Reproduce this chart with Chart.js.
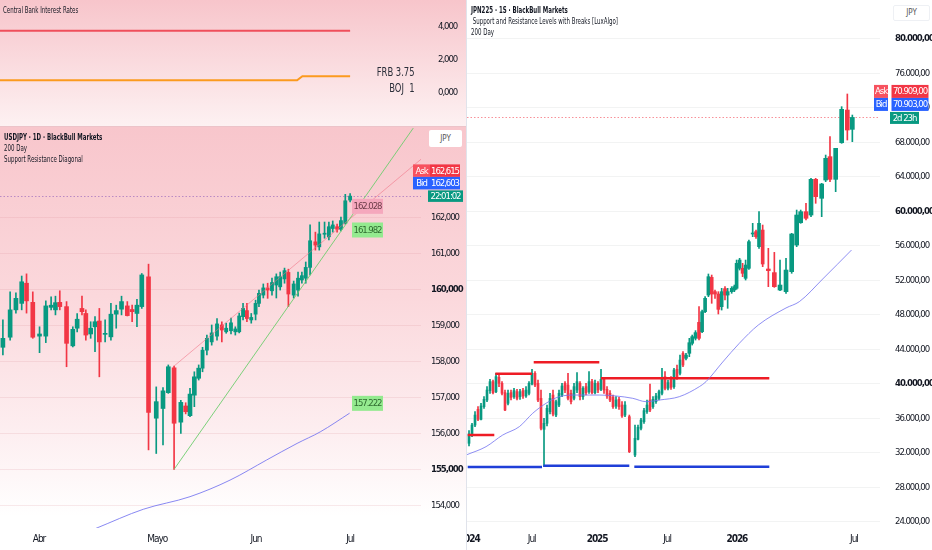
<!DOCTYPE html>
<html>
<head>
<meta charset="utf-8">
<script src="https://cdn.jsdelivr.net/npm/chart.js@4.4.1/dist/chart.umd.min.js"></script>
<style>
    body { margin: 0; width: 932px; height: 550px; position: relative; overflow: hidden; background: #fff;
           font-family: 'Liberation Sans Narrow', 'DejaVu Sans Condensed', Roboto, sans-serif; color: #131722; }
    .pane { position: absolute; overflow: hidden; }
    .pane canvas { position: absolute; left: 0; top: 0; }
    .legend { position: absolute; font-size: 8px; line-height: 11px; white-space: nowrap;
              transform: scaleX(0.76); transform-origin: left top; }
    .cur { position: absolute; background: #fff; border-radius: 2px; font-size: 8px; color: #555; text-align: center; }
    .rate { position: absolute; font-size: 12px; line-height: 16px; color: #2a2e39; text-align: right; white-space: pre;
            transform: scaleX(0.78); transform-origin: right top; }
</style>
</head>
<body>
<div class="pane" style="left:0;top:0;width:466px;height:126px;background:linear-gradient(#f7c5cb,#fdf1f2)">
    <canvas id="ratesChart" width="466" height="126"></canvas>
    <div class="legend" style="left:3px;top:5px">Central Bank Interest Rates</div>
    <div class="rate" id="rateLabels" style="right:51px;top:64px"></div>
</div>
<div style="position:absolute;left:0;top:126px;width:466px;height:1px;background:#ecc3c9"></div>
<div class="pane" style="left:0;top:127px;width:466px;height:423px;background:linear-gradient(#f8c6cc 0%,#fbd8dc 40%,#fdeef0 72%,#fff 92%)">
    <canvas id="usdChart" width="466" height="423"></canvas>
    <div class="legend" style="left:4px;top:5px"><b>USDJPY · 1D · BlackBull Markets</b><br>200 Day<br>Support Resistance Diagonal</div>
    <div class="cur" style="left:429px;top:3px;width:33px;height:17px;line-height:17px">JPY</div>
</div>
<div style="position:absolute;left:466px;top:0;width:1px;height:550px;background:#e0e3eb"></div>
<div class="pane" style="left:467px;top:0;width:465px;height:550px;background:#fff">
    <canvas id="jpChart" width="465" height="550"></canvas>
    <div class="legend" style="left:4px;top:5px"><b>JPN225 · 1S · BlackBull Markets</b><br>&nbsp;Support and Resistance Levels with Breaks [LuxAlgo]<br>200 Day</div>
    <div class="cur" style="left:426px;top:5px;width:35px;height:14px;line-height:14px;border:1px solid #eef0f4">JPY</div>
</div>

<script>
const FONT = "'Liberation Sans Narrow', 'DejaVu Sans Condensed', Roboto, sans-serif";
const GREEN = '#089981';
const RED = '#f23645';

// Central bank rates (top pane, same time axis as USDJPY)
const rateT = [0, 61.6, 62.7, 72.6];
const frbRate = [3.75, 3.75, 3.75, 3.75];
const bojRate = [0.75, 0.75, 1, 1];
const rateTicks = [0, 2, 4];

// USDJPY daily candles
const usdT = [0.6, 2.1, 3.3, 4.5, 5.5, 6.8, 8.2, 9.5, 10.6, 11.5, 12.4, 13.8, 15.1, 16.0, 17.0, 17.8, 18.8, 19.7,
    20.6, 21.8, 23.0, 24.1, 25.2, 26.4, 27.4, 28.4, 29.4, 30.8, 32.4, 33.8, 34.9, 36.1, 37.5, 38.5, 39.4, 40.3,
    41.2, 42.0, 42.9, 43.9, 45.0, 46.0, 46.9, 47.9, 48.8, 49.6, 50.4, 51.2, 52.1, 53.0, 53.7, 54.6, 55.5, 56.4,
    57.3, 58.1, 59.0, 59.8, 60.9, 61.8, 62.6, 63.4, 64.3, 65.4, 66.2, 67.3, 68.2, 69.0, 69.9, 70.7, 71.6, 72.6];
const usdO = [158.39, 158.67, 159.43, 159.61, 160.17, 159.64, 158.70, 158.70, 159.50, 159.43, 159.64, 159.52,
    158.43, 158.92, 159.47, 159.33, 158.76, 158.96, 159.12, 158.75, 158.68, 159.31, 159.45, 159.54, 159.44, 159.33,
    159.52, 160.35, 156.42, 156.69, 157.13, 157.82, 156.31, 156.76, 156.49, 157.06, 157.53, 157.81, 158.31, 158.54,
    158.70, 159.01, 158.82, 158.85, 158.82, 158.82, 159.24, 159.41, 159.15, 159.31, 159.61, 159.84, 160.04, 159.96,
    160.12, 160.07, 160.29, 160.47, 159.84, 159.98, 160.26, 160.31, 160.61, 161.32, 161.18, 161.53, 161.46, 161.69,
    161.74, 161.67, 161.83, 162.48];
const usdH = [159.15, 159.93, 159.90, 160.37, 160.43, 159.93, 158.96, 159.68, 159.79, 159.81, 159.96, 159.66,
    158.96, 159.33, 159.81, 159.43, 159.10, 159.24, 159.47, 159.15, 159.61, 159.56, 159.81, 159.66, 159.56, 159.72,
    160.44, 160.70, 157.29, 157.27, 157.90, 157.87, 156.92, 156.85, 157.25, 157.71, 157.90, 158.39, 158.73, 159.01,
    159.19, 159.10, 159.06, 159.20, 158.96, 159.34, 159.61, 159.61, 159.33, 159.70, 159.98, 160.15, 160.17, 160.31,
    160.43, 160.48, 160.59, 160.56, 160.23, 160.48, 160.48, 160.76, 161.79, 161.59, 161.87, 161.87, 161.87, 161.90,
    161.81, 162.01, 162.64, 162.66];
const usdL = [158.18, 158.59, 159.34, 159.43, 159.34, 158.64, 158.24, 158.52, 159.43, 159.29, 159.43, 157.85,
    158.40, 158.82, 159.29, 158.59, 158.64, 158.27, 157.57, 158.54, 158.59, 158.92, 159.29, 159.26, 159.10, 158.96,
    159.47, 155.54, 155.44, 155.68, 157.11, 155.00, 156.00, 156.54, 156.46, 156.74, 157.48, 157.71, 158.18, 158.45,
    158.59, 158.54, 158.78, 158.76, 158.73, 158.79, 159.15, 159.10, 159.06, 159.15, 159.52, 159.76, 159.75, 159.84,
    159.76, 159.98, 160.17, 159.52, 159.76, 159.81, 160.17, 160.17, 160.40, 161.09, 161.09, 161.42, 161.37, 161.59,
    161.59, 161.62, 161.81, 162.43];
const usdC = [158.64, 159.43, 159.75, 160.21, 159.68, 158.67, 158.76, 159.54, 159.56, 159.63, 159.52, 158.50,
    158.89, 159.17, 159.38, 158.73, 158.92, 159.10, 158.54, 158.77, 159.31, 159.41, 159.66, 159.27, 159.38, 159.56,
    160.40, 156.58, 156.88, 157.18, 157.85, 156.28, 156.86, 156.60, 157.09, 157.57, 157.81, 158.31, 158.64, 158.79,
    159.04, 158.87, 158.92, 159.07, 158.90, 159.26, 159.47, 159.19, 159.22, 159.61, 159.89, 160.04, 159.98, 160.19,
    160.35, 160.35, 160.52, 159.87, 160.15, 160.31, 160.38, 160.61, 161.35, 161.23, 161.54, 161.56, 161.74, 161.79,
    161.67, 161.91, 162.46, 162.59];
const usdMaT = [19.9, 29.7, 39.4, 47.7, 55.3, 61.6, 66.4, 72.5];
const usdMaV = [153.36, 153.89, 154.24, 154.70, 155.26, 155.72, 156.04, 156.56];
const usdSupT = [36.1, 85.7];
const usdSupV = [155.00, 164.48];
const usdResT = [36.1, 87.8];
const usdResV = [157.87, 163.67];
const usdLevels = [162.028, 161.982, 157.222];
const usdTicks = [154, 155, 156, 157, 158, 159, 160, 161, 162];
const usdMonthT = [8.1, 32.6, 53.1, 72.6];
const usdMonths = ['Abr', 'Mayo', 'Jun', 'Jul'];
const usdAsk = 162.615;
const usdBid = 162.603;
const usdTimer = '22:01:02';

// JPN225 weekly candles
const jpT = [1, 2, 3, 4, 5, 6, 7, 8, 9, 10, 11, 12, 13, 14, 15, 16, 17, 18, 19, 20, 21, 22, 23, 24, 25, 26, 27,
    28, 29, 30, 31, 32, 33, 34, 35, 36, 37, 38, 39, 40, 41, 42, 43, 44, 45, 46, 47, 48, 49, 50, 51, 52, 53,
    54.44, 56.33, 57.33, 58.33, 59.33, 60.33, 61.33, 62.33, 63.33, 64.33, 65.33, 66.33, 67.33, 68.33, 69.33, 70.33,
    71.33, 72.33, 73.33, 74.44, 75.4, 76.5, 77.67, 78.7, 79.7, 80.8, 81.9, 83.0, 84.11, 85.22, 86.33, 87.22, 88.56,
    89.44, 90.2, 91.2, 92.2, 93.2, 94.3, 95.56, 96.67, 97.67, 98.89, 100.78, 102.78, 104.67, 106.67, 108.56, 110.22,
    111.56, 113.33, 115, 116.56, 118.56, 119.89, 121.33, 123.22, 125.22, 127.11, 128.78];
const jpO = [33100, 34060, 35220, 37040, 35880, 37350, 38120, 39210, 40250, 39090, 40750, 40060, 38980, 37740,
    38980, 38510, 39090, 38510, 39210, 38590, 38900, 39980, 41220, 40060, 38320, 34720, 35420, 36770, 38700, 36380,
    37540, 38700, 40060, 39860, 38900, 38320, 39280, 40060, 38510, 39670, 39090, 40250, 38980, 40060, 39360, 40520,
    39360, 38900, 38430, 37430, 38200, 37540, 36380, 36190, 31740, 33560, 34840, 35610, 36770, 38120, 37350, 37930,
    38320, 38900, 40830, 39480, 40520, 39670, 41680, 41220, 43540, 42960, 43540, 44700, 45280, 47130, 46050, 48370,
    50300, 52350, 50690, 50420, 48950, 51040, 50300, 50690, 50880, 51080, 53400, 53400, 52240, 53400, 57380, 57650,
    55910, 57840, 53320, 52900, 50880, 50690, 53010, 56100, 58690, 59970, 59580, 63720, 61520, 63640, 66350, 63720,
    67970, 71760, 69520];
const jpH = [34570, 35420, 36770, 37350, 37740, 38510, 39670, 40520, 40440, 41220, 41020, 40250, 39280, 39280,
    39280, 39480, 39360, 39360, 39480, 39670, 40250, 41680, 41410, 40440, 39280, 36000, 37540, 38900, 39280, 38120,
    39280, 40060, 40250, 41220, 39280, 40060, 41300, 40250, 39670, 40060, 41410, 40520, 40440, 40250, 41680, 40750,
    39670, 39210, 38700, 38510, 38430, 37930, 37930, 36380, 35220, 35220, 36000, 37160, 38120, 39980, 38510, 38900,
    39280, 41800, 41410, 40440, 40830, 41800, 42180, 43340, 43730, 43540, 45280, 45660, 46170, 48950, 48560, 50110,
    52740, 52620, 50880, 50690, 51080, 51270, 51080, 51270, 51460, 54360, 54560, 53980, 54360, 56680, 58620, 57840,
    59970, 58420, 55720, 55250, 54360, 54560, 57460, 60160, 60160, 60940, 63840, 63840, 63260, 66540, 68670, 67320,
    72150, 73620, 71180];
const jpL = [32790, 33870, 35030, 35730, 35800, 37160, 37930, 38900, 38820, 38980, 39670, 38700, 36890, 37540,
    38120, 38320, 38120, 38200, 38320, 38430, 38700, 39860, 39670, 37930, 34640, 30390, 35110, 36500, 36270, 36190,
    37350, 38510, 38980, 38120, 37660, 38120, 38980, 38120, 38200, 38700, 38900, 38820, 38820, 38980, 39210, 38900,
    38320, 37930, 37160, 37160, 37040, 36110, 36190, 32020, 31550, 33480, 34640, 35420, 36580, 36770, 37160, 37740,
    38120, 38700, 39280, 39280, 39360, 39480, 40520, 41020, 41990, 42760, 43150, 44500, 45080, 45080, 45940, 48250,
    50110, 49340, 49920, 48100, 48560, 49720, 48760, 50500, 50690, 50960, 53200, 52430, 52040, 53280, 57070, 56880,
    55720, 53590, 51270, 51190, 50810, 50500, 52820, 55910, 58620, 59000, 59390, 60940, 59390, 63450, 63450, 62290,
    67900, 68280, 68090];
const jpC = [34180, 35220, 36380, 35880, 37430, 38200, 39280, 40250, 38980, 40830, 40060, 38900, 36960, 38900,
    38430, 39210, 38320, 39090, 38590, 39280, 40060, 41220, 39860, 38120, 34840, 35420, 37160, 38320, 36500, 37930,
    38900, 39750, 39280, 38320, 37930, 39670, 40250, 38510, 39480, 38980, 40250, 38980, 40060, 39280, 40520, 39280,
    38590, 38120, 37350, 38120, 37350, 36270, 37540, 32130, 33680, 34950, 35800, 36890, 37540, 36960, 38200, 38590,
    39090, 40750, 39480, 40140, 39590, 41600, 40750, 42760, 42180, 43340, 44770, 45470, 45940, 45280, 48370, 49920,
    52430, 50420, 50420, 48640, 50690, 50300, 50690, 51080, 51270, 53980, 54360, 52820, 53780, 56490, 57460, 57070,
    58620, 53900, 53130, 51270, 51460, 53200, 57380, 59580, 59970, 59200, 63720, 61710, 63180, 66160, 63720, 67320,
    71840, 69440, 70903];
const jpMaT = [0, 6.67, 12.23, 17.77, 22.23, 26.67, 31.1, 36.67, 44.43, 50, 55.57, 60, 64.43, 71.1, 77.77, 80,
    85.57, 91.1, 97.43, 106.67, 111.1, 118.9, 128.5];
const jpMaV = [31740, 32710, 34060, 35030, 36580, 37740, 38510, 38700, 38700, 38590, 38320, 37930, 38120, 38510,
    39670, 40250, 42530, 44700, 46820, 48800, 49530, 52160, 55520];
const jpResV = [34064, 41175, 42497, 40641];
const jpResFrom = [0.57, 9.77, 22.57, 45];
const jpResTo = [9.43, 22, 44.43, 101.1];
const jpSupV = [30352, 30500, 30388];
const jpSupFrom = [0.57, 25.77, 56.1];
const jpSupTo = [25.33, 54.43, 101.1];
const jpTicks = [24000, 28000, 32000, 36000, 40000, 44000, 48000, 52000, 56000, 60000, 64000, 68000, 72000, 76000, 80000];
const jpTimeT = [1.1, 21.9, 43.7, 67, 90.3, 129.3];
const jpTimes = ['2024', 'Jul', '2025', 'Jul', '2026', 'Jul'];
const jpAsk = 70909;
const jpBid = 70903;
const jpTimer = '2d 23h';

Chart.defaults.font.family = FONT;
Chart.defaults.color = '#131722';
Chart.defaults.animation = false;
Chart.defaults.events = [];
Chart.defaults.responsive = false;
Chart.defaults.plugins.legend.display = false;
Chart.defaults.plugins.tooltip.enabled = false;

// the reference uses a squeezed face, so tighten the canvas text to the same width
const measure = document.createElement('canvas').getContext('2d');
measure.font = '9.5px ' + FONT;
const LETTER = Math.min(0, (28 - measure.measureText('162,000').width) / 7).toFixed(2) + 'px';

const tightText = {
    id: 'tightText',
    beforeDraw(chart) {
        chart.ctx.letterSpacing = LETTER;
    }
};

function fmtUsd(v) {
    return v.toFixed(3).replace('.', ',');
}

function fmtJp(v) {
    return Math.round(v).toString().replace(/\B(?=(\d{3})+(?!\d))/g, '.') + ',00';
}

function points(t, v) {
    return t.map((x, i) => ({x: x, y: v[i]}));
}

function lineSet(data, color, width, extra) {
    return Object.assign({
        type: 'line', data: data, borderColor: color, borderWidth: width,
        pointRadius: 0, order: 0
    }, extra || {});
}

function candleSets(t, o, h, l, c, groups) {
    const color = i => c[i] >= o[i] ? GREEN : RED;
    const sets = [{
        data: t.map((x, i) => ({x: x, y: [l[i], h[i]]})),
        backgroundColor: t.map((x, i) => color(i)),
        barThickness: 1,
        order: 2
    }];
    groups.forEach(g => {
        const idx = t.map((x, i) => i).filter(i => i >= g.from && i < g.to);
        sets.push({
            data: idx.map(i => ({x: t[i], y: [o[i], c[i]]})),
            backgroundColor: idx.map(color),
            barThickness: g.width,
            minBarLength: 1,
            order: 1
        });
    });
    return sets;
}

function fixTicks(values) {
    return scale => { scale.ticks = values.map(v => ({value: v})); };
}

function fitAxis(prop, size) {
    return scale => {
        scale[prop] = size;
        scale.paddingLeft = 0;
        scale.paddingRight = 0;
        scale.paddingTop = 0;
        scale.paddingBottom = 0;
    };
}

function tag(ctx, x, yc, w, h, fill, text, color) {
    ctx.fillStyle = fill;
    ctx.fillRect(x, yc - h / 2, w, h);
    ctx.fillStyle = color || '#fff';
    ctx.font = '9.5px ' + FONT;
    ctx.textAlign = 'center';
    ctx.textBaseline = 'middle';
    ctx.fillText(text, x + w / 2, yc + 0.5);
}

function priceTags(opt) {
    return {
        id: 'priceTags',
        beforeDatasetsDraw(chart) {
            const {ctx, chartArea} = chart;
            const y = Math.round(chart.scales.y.getPixelForValue(opt.bid)) + 0.5;
            ctx.save();
            ctx.strokeStyle = opt.lineColor;
            ctx.lineWidth = 1;
            ctx.setLineDash([1.5, 2]);
            ctx.beginPath();
            ctx.moveTo(chartArea.left, y);
            ctx.lineTo(chartArea.right, y);
            ctx.stroke();
            ctx.restore();
        },
        afterDraw(chart) {
            const ctx = chart.ctx;
            const y = chart.scales.y.getPixelForValue(opt.bid);
            ctx.save();
            tag(ctx, opt.nameX, y - opt.gap * 2, opt.nameW, opt.h, '#f7525f', 'Ask');
            tag(ctx, opt.valX, y - opt.gap * 2, opt.valW, opt.h, RED, opt.fmt(opt.ask));
            tag(ctx, opt.nameX, y - opt.gap, opt.nameW, opt.h, '#2962ff', 'Bid');
            tag(ctx, opt.valX, y - opt.gap, opt.valW, opt.h, '#2962ff', opt.fmt(opt.bid));
            tag(ctx, opt.timerX, y + 0.5, opt.timerW, opt.h - 1, GREEN, opt.timer);
            ctx.restore();
        }
    };
}

const usdLevelTags = {
    id: 'usdLevelTags',
    afterDatasetsDraw(chart) {
        const ctx = chart.ctx;
        const styles = [
            {fill: '#f5a8bd', text: '#6b3b47', dy: -10},
            {fill: '#94ea8f', text: '#2f6b2f', dy: 12},
            {fill: '#94ea8f', text: '#2f6b2f', dy: 14}
        ];
        ctx.save();
        usdLevels.forEach((v, i) => {
            const y = chart.scales.y.getPixelForValue(v);
            tag(ctx, 352, y + styles[i].dy, 31, 15, styles[i].fill, v.toFixed(3), styles[i].text);
        });
        ctx.restore();
    }
};

function timeAxis(min, max, ticksAt, labelFor, font) {
    return {
        type: 'linear', stacked: true, offset: false, min: min, max: max,
        grid: {display: false, drawTicks: false, offset: false}, border: {display: false},
        afterBuildTicks: fixTicks(ticksAt),
        afterFit: fitAxis('height', 22),
        ticks: {padding: 5, autoSkip: false, maxRotation: 0, font: font, callback: labelFor}
    };
}

function loadRatesChart() {
    document.getElementById('rateLabels').textContent =
        'FRB ' + frbRate[frbRate.length - 1] + '\nBOJ  ' + bojRate[bojRate.length - 1];

    new Chart(document.getElementById('ratesChart'), {
        type: 'line',
        data: {
            datasets: [
                lineSet(points(rateT, frbRate), '#ef4f5b', 2),
                lineSet(points(rateT, bojRate), '#fb9a1f', 2)
            ]
        },
        options: {
            layout: {padding: 0, autoPadding: false},
            scales: {
                x: {type: 'linear', display: false, offset: false, min: 0, max: 87.3},
                y: {
                    position: 'right', min: -2.02, max: 5.62,
                    grid: {display: false}, border: {display: false},
                    afterBuildTicks: fixTicks(rateTicks),
                    afterFit: fitAxis('width', 45),
                    ticks: {padding: 9, font: {size: 9.5}, callback: v => fmtUsd(v)}
                }
            }
        },
        plugins: [tightText]
    });
}

function loadUsdChart() {
    const datasets = candleSets(usdT, usdO, usdH, usdL, usdC,
        [{from: 0, to: 37, width: 4}, {from: 37, to: usdT.length, width: 3.2}]);
    datasets.push(lineSet(points(usdMaT, usdMaV), 'rgba(115,115,240,0.85)', 1, {cubicInterpolationMode: 'monotone'}));
    datasets.push(lineSet(points(usdSupT, usdSupV), 'rgba(110,205,110,0.9)', 1));
    datasets.push(lineSet(points(usdResT, usdResV), 'rgba(240,110,130,0.55)', 1));

    new Chart(document.getElementById('usdChart'), {
        type: 'bar',
        data: {datasets: datasets},
        options: {
            layout: {padding: 0, autoPadding: false},
            scales: {
                x: timeAxis(0, 87.3, usdMonthT, (v, i) => usdMonths[i], {size: 10}),
                y: {
                    position: 'right', min: 153.37, max: 164.51,
                    grid: {color: 'rgba(215,140,150,0.18)', drawTicks: false}, border: {display: false},
                    afterBuildTicks: fixTicks(usdTicks),
                    afterFit: fitAxis('width', 45),
                    ticks: {
                        padding: 10,
                        font: ctx => ({size: 9.5, weight: ctx.tick && ctx.tick.value % 5 === 0 ? 'bold' : 'normal'}),
                        callback: v => fmtUsd(v)
                    }
                }
            }
        },
        plugins: [tightText, usdLevelTags, priceTags({
            bid: usdBid, ask: usdAsk, timer: usdTimer, fmt: fmtUsd, lineColor: 'rgba(160,110,190,0.7)',
            nameX: 413, nameW: 17, valX: 430, valW: 30, timerX: 428, timerW: 35, h: 12.5, gap: 12.5
        })]
    });
}

function loadJpChart() {
    const datasets = candleSets(jpT, jpO, jpH, jpL, jpC,
        [{from: 0, to: 71, width: 2}, {from: 71, to: 96, width: 3}, {from: 96, to: jpT.length, width: 4}]);
    datasets.push(lineSet(points(jpMaT, jpMaV), 'rgba(115,115,240,0.8)', 1, {cubicInterpolationMode: 'monotone'}));
    jpResV.forEach((v, i) => {
        datasets.push(lineSet([{x: jpResFrom[i], y: v}, {x: jpResTo[i], y: v}], '#ee1c25', 2.5));
    });
    jpSupV.forEach((v, i) => {
        datasets.push(lineSet([{x: jpSupFrom[i], y: v}, {x: jpSupTo[i], y: v}], '#1f3fd8', 2.5));
    });

    new Chart(document.getElementById('jpChart'), {
        type: 'bar',
        data: {datasets: datasets},
        options: {
            layout: {padding: 0, autoPadding: false},
            scales: {
                x: timeAxis(0.33, 138, jpTimeT, (v, i) => jpTimes[i],
                    ctx => ({size: 10, weight: jpTimes[ctx.index] && jpTimes[ctx.index].length === 4 ? 'bold' : 'normal'})),
                y: {
                    position: 'right', min: 23276, max: 84524,
                    grid: {color: 'rgba(42,46,57,0.06)', drawTicks: false}, border: {display: false},
                    afterBuildTicks: fixTicks(jpTicks),
                    afterFit: fitAxis('width', 52),
                    ticks: {
                        padding: 15,
                        font: ctx => ({size: 9.5, weight: ctx.tick && ctx.tick.value % 20000 === 0 ? 'bold' : 'normal'}),
                        callback: v => fmtJp(v)
                    }
                }
            }
        },
        plugins: [tightText, priceTags({
            bid: jpBid, ask: jpAsk, timer: jpTimer, fmt: fmtJp, lineColor: 'rgba(242,54,69,0.55)',
            nameX: 407, nameW: 14, valX: 424.5, valW: 37, timerX: 423, timerW: 29, h: 13, gap: 13
        })]
    });
}

loadRatesChart();
loadUsdChart();
loadJpChart();
</script>
</body>
</html>
